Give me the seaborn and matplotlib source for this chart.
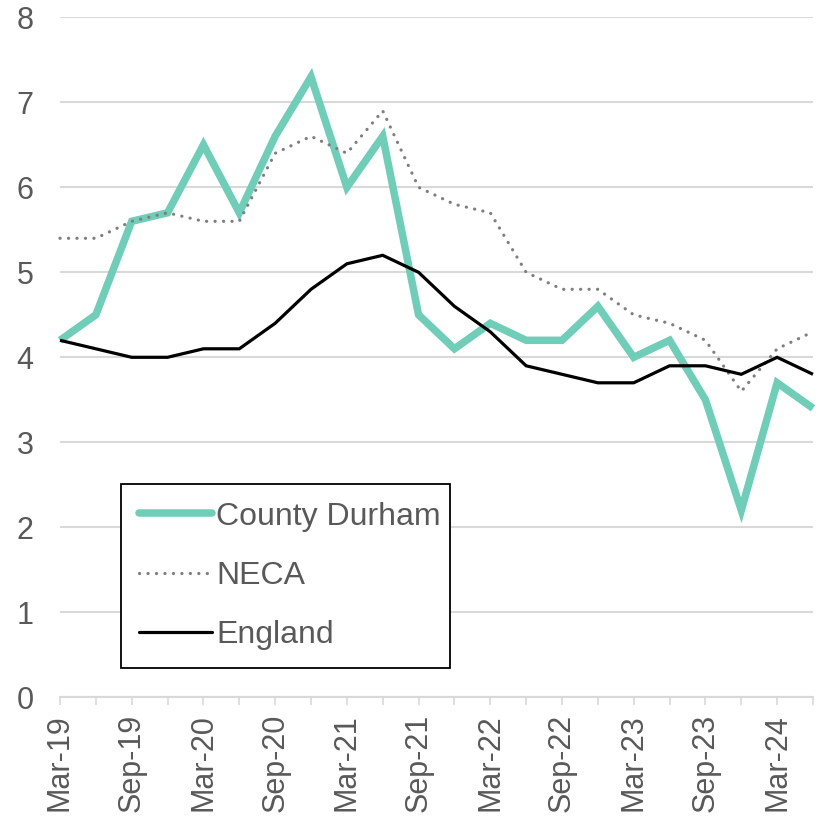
import matplotlib
matplotlib.use("Agg")
import matplotlib.pyplot as plt
import seaborn as sns
import pandas as pd

quarters = ["Mar-19", "Jun-19", "Sep-19", "Dec-19", "Mar-20", "Jun-20", "Sep-20", "Dec-20",
            "Mar-21", "Jun-21", "Sep-21", "Dec-21", "Mar-22", "Jun-22", "Sep-22", "Dec-22",
            "Mar-23", "Jun-23", "Sep-23", "Dec-23", "Mar-24", "Jun-24"]
county_durham = [4.2, 4.5, 5.6, 5.7, 6.5, 5.7, 6.6, 7.3, 6.0, 6.6, 4.5, 4.1,
                 4.4, 4.2, 4.2, 4.6, 4.0, 4.2, 3.5, 2.2, 3.7, 3.4]
neca = [5.4, 5.4, 5.6, 5.7, 5.6, 5.6, 6.4, 6.6, 6.4, 6.9, 6.0, 5.8,
        5.7, 5.0, 4.8, 4.8, 4.5, 4.4, 4.2, 3.6, 4.1, 4.3]
england = [4.2, 4.1, 4.0, 4.0, 4.1, 4.1, 4.4, 4.8, 5.1, 5.2, 5.0, 4.6,
           4.3, 3.9, 3.8, 3.7, 3.7, 3.9, 3.9, 3.8, 4.0, 3.8]
y_ticks = [0, 1, 2, 3, 4, 5, 6, 7, 8]

sns.set_theme(style="white")
plt.rcParams["font.family"] = ["Liberation Sans", "DejaVu Sans"]

idx = list(range(len(quarters)))
df = pd.DataFrame({
    "q": idx * 3,
    "value": county_durham + neca + england,
    "area": ["County Durham"] * len(idx) + ["NECA"] * len(idx) + ["England"] * len(idx),
})

fig = plt.figure(figsize=(8.16, 8.17), dpi=100)
ax = fig.add_axes([60 / 816, (817 - 697.3) / 817, 753 / 816, 680 / 817])

styles = {
    "County Durham": dict(color="#6fcdb8", lw=5.4, ls="-"),
    "NECA": dict(color="#7f7f7f", lw=2.3, ls=(0, (0.05, 2.6))),
    "England": dict(color="#000000", lw=2.3, ls="-"),
}
for name, st in styles.items():
    sub = df[df["area"] == name]
    sns.lineplot(data=sub, x="q", y="value", ax=ax, color=st["color"], linewidth=st["lw"],
                 linestyle=st["ls"], label=name, solid_capstyle="butt", dash_capstyle="round",
                 solid_joinstyle="miter", clip_on=False)

ax.set_xlim(0, len(quarters) - 1)
ax.set_ylim(0, 8)
ax.set_yticks(y_ticks)
ax.set_yticklabels([str(t) for t in y_ticks], fontsize=22, color="#595959")
ax.set_xticks(idx)
ax.set_xticklabels([q if i % 2 == 0 else "" for i, q in enumerate(quarters)],
                   rotation=90, fontsize=22, color="#595959")
ax.tick_params(axis="x", length=6, width=1.2, color="#d9d9d9", pad=6, bottom=True)
ax.tick_params(axis="y", length=0, pad=19)
ax.set_xlabel("")
ax.set_ylabel("")

ax.grid(axis="y", color="#d9d9d9", linewidth=1.5)
ax.set_axisbelow(True)
for s in ["top", "right", "left"]:
    ax.spines[s].set_visible(False)
ax.spines["bottom"].set_color("#d9d9d9")
ax.spines["bottom"].set_linewidth(1.5)

leg = ax.legend(loc="lower left", bbox_to_anchor=(61 / 753, 29 / 680, 329 / 753, 183 / 680),
                mode="expand", borderaxespad=0, fontsize=23, frameon=True, fancybox=False,
                handlelength=2.3, handletextpad=0.12, labelspacing=0.92, borderpad=0.56,
                labelcolor="#595959")
leg.get_frame().set_edgecolor("#000000")
leg.get_frame().set_linewidth(1.3)
leg.get_frame().set_alpha(1)
for h in leg.get_lines():
    h.set_solid_capstyle("round")

fig.savefig("out.png", dpi=100)
